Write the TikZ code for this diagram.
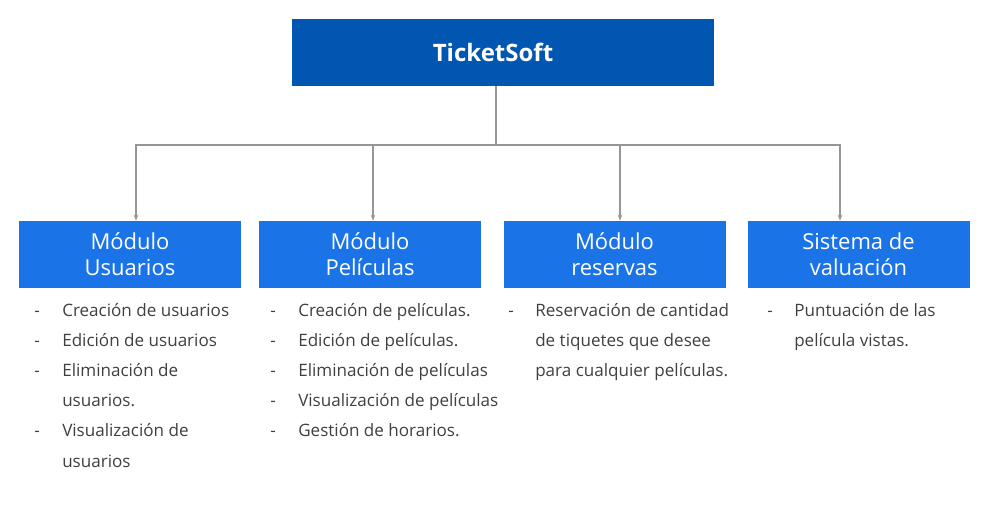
\documentclass[tikz,border=0pt]{standalone}
\usepackage{fontspec}
\setmainfont{Open Sans}
\usetikzlibrary{arrows.meta,calc}
\definecolor{rootblue}{RGB}{0,86,176}
\definecolor{modblue}{RGB}{26,116,232}
\definecolor{txtgray}{RGB}{64,64,64}
\definecolor{linegray}{RGB}{150,150,150}
\begin{document}
\begin{tikzpicture}[x=0.75pt,y=-0.75pt,
  rootbox/.style={fill=rootblue,draw=none,minimum width=316.5pt,minimum height=50.25pt,inner sep=0pt,
    text=white,font=\fontsize{18}{22}\selectfont\bfseries},
  modbox/.style={fill=modblue,draw=none,minimum width=166.5pt,minimum height=50.25pt,inner sep=0pt,
    text=white,align=center,font=\fontsize{16.5}{19.5}\selectfont},
  item/.style={anchor=base west,inner sep=0pt,text=txtgray,font=\fontsize{12.8}{15}\selectfont},
  dashmark/.style={anchor=base,inner sep=0pt,text=txtgray,font=\fontsize{12.8}{15}\selectfont},
  conn/.style={draw=linegray,line width=0.8pt},
  arrowconn/.style={conn,-{Stealth[length=4.5pt,width=3.4pt]}}
]
\useasboundingbox (0,0) rectangle (988,506);
\node[rootbox] (root) at (503,52.5) {\hspace*{-15pt}TicketSoft};
\node[modbox] (m1) at (130,254.5) {Módulo\\Usuarios};
\node[modbox] (m2) at (370,254.5) {Módulo\\Películas};
\node[modbox] (m3) at (614.5,254.5) {Módulo\\reservas};
\node[modbox] (m4) at (858.5,254.5) {Sistema de\\valuación};
\coordinate (bus) at (496,145);
\draw[conn] (bus |- root.south) -- (bus);
\draw[arrowconn] (bus) -| ($(m1.north)+(6,0)$);
\draw[arrowconn] (bus) -| ($(m2.north)+(3,0)$);
\draw[arrowconn] (bus) -| ($(m3.north)+(5.5,0)$);
\draw[arrowconn] (bus) -| ($(m4.north)+(-18.5,0)$);
% column 1
\node[dashmark] (d11) at (37,316) {-};
\node[item] (t11) at (62,316) {Creación de usuarios};
\node[dashmark] (d12) at (37,346) {-};
\node[item] (t12) at (62,346) {Edición de usuarios};
\node[dashmark] (d13) at (37,376) {-};
\node[item] (t13) at (62,376) {Eliminación de};
\node[item] (t13b) at (62,406) {usuarios.};
\node[dashmark] (d14) at (37,436) {-};
\node[item] (t14) at (62,436) {Visualización de};
\node[item] (t14b) at (62,467) {usuarios};
% column 2
\node[dashmark] (d21) at (273,316) {-};
\node[item] (t21) at (298,316) {Creación de películas.};
\node[dashmark] (d22) at (273,346) {-};
\node[item] (t22) at (298,346) {Edición de películas.};
\node[dashmark] (d23) at (273,376) {-};
\node[item] (t23) at (298,376) {Eliminación de películas};
\node[dashmark] (d24) at (273,406) {-};
\node[item] (t24) at (298,406) {Visualización de películas};
\node[dashmark] (d25) at (273,436) {-};
\node[item] (t25) at (298,436) {Gestión de horarios.};
% column 3
\node[dashmark] (d31) at (511,316) {-};
\node[item] (t31) at (535,316) {Reservación de cantidad};
\node[item] (t31b) at (535,346) {de tiquetes que desee};
\node[item] (t31c) at (535,376) {para cualquier películas.};
% column 4
\node[dashmark] (d41) at (770,316) {-};
\node[item] (t41) at (794,316) {Puntuación de las};
\node[item] (t41b) at (794,346) {película vistas.};
\end{tikzpicture}
\end{document}
